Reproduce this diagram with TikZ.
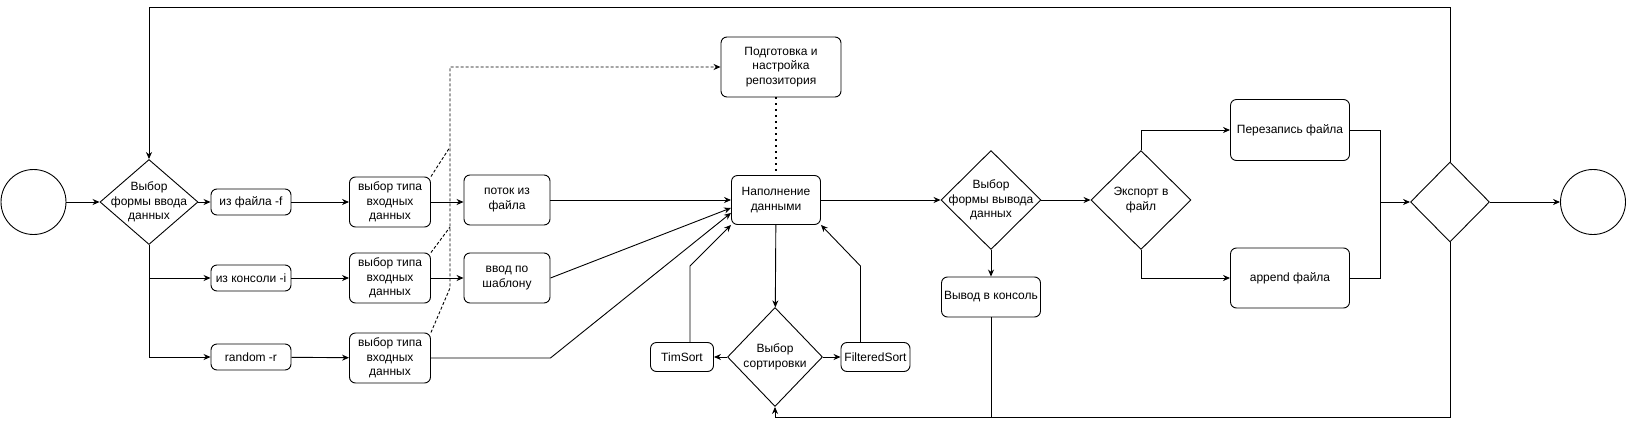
\documentclass[tikz,border=0pt]{standalone}
\usepackage{fontspec}
\setmainfont{Liberation Sans}
\usetikzlibrary{shapes.geometric,arrows.meta}
\begin{document}
\begin{tikzpicture}[x=1pt,y=-1pt,line width=.9pt,
  font=\fontsize{12}{14.4}\selectfont,
  >={Stealth[length=7pt,width=6pt]},
  blok/.style={draw,rounded corners=6pt,align=center,inner sep=0pt},
  malyj/.style={blok,minimum width=80pt,minimum height=26pt},
  tipblok/.style={blok,minimum width=81pt,minimum height=50pt},
  vybor/.style={draw,diamond,inner sep=0pt},
  krug/.style={draw,circle,minimum size=65pt,inner sep=0pt},
  punktir/.style={dash pattern=on 3pt off 2pt},
  tochki/.style={line width=1.6pt,dash pattern=on 1.6pt off 4.4pt}]
\useasboundingbox (0,0) rectangle (1626,426);
\node[krug] (start) at (33.5,202) {};
\node[vybor,minimum width=98pt,minimum height=85pt,label={[align=center]center:Выбор\\формы ввода\\данных}] (vvod) at (149,202) {};
\node[malyj] (fajl) at (251,202) {из файла -f};
\node[malyj] (konsol) at (251,278) {из консоли -i};
\node[malyj] (rnd) at (251,357) {random -r};
\node[tipblok] (tip1) at (390,202) {выбор типа\\входных\\данных};
\node[tipblok] (tip2) at (390,278) {выбор типа\\входных\\данных};
\node[tipblok] (tip3) at (390,358) {выбор типа\\входных\\данных};
\node[blok,minimum width=86pt,minimum height=50pt] (potok) at (507,200) {поток из\\файла};
\node[blok,minimum width=86pt,minimum height=50pt] (shablon) at (507,278) {ввод по\\шаблону};
\node[blok,minimum width=120pt,minimum height=60pt] (repo) at (781,67) {Подготовка и\\настройка\\репозитория};
\node[blok,minimum width=89pt,minimum height=49pt] (fill) at (776,200) {Наполнение\\данными};
\node[vybor,minimum width=95pt,minimum height=99pt,label={[align=center]center:Выбор\\сортировки}] (sort) at (775,357) {};
\node[blok,minimum width=63pt,minimum height=29pt] (tim) at (682,357) {TimSort};
\node[blok,minimum width=69pt,minimum height=29pt] (filt) at (875.5,357) {FilteredSort};
\node[vybor,minimum width=100pt,minimum height=99pt,label={[align=center]center:Выбор\\формы вывода\\данных}] (vyvod) at (991,200) {};
\node[blok,minimum width=99pt,minimum height=40pt] (konsvyv) at (991,297) {Вывод в консоль};
\node[vybor,minimum width=100pt,minimum height=99pt,label={[align=center]center:Экспорт в\\файл}] (eksport) at (1141,200) {};
\node[blok,minimum width=119pt,minimum height=61pt] (perez) at (1290,130) {Перезапись файла};
\node[blok,minimum width=119pt,minimum height=60pt] (append) at (1290,278) {append файла};
\node[vybor,minimum width=79pt,minimum height=80pt] (sliyanie) at (1450,202) {};
\node[krug] (konec) at (1593,202) {};
\coordinate (d1) at (450,147);
\coordinate (d2) at (450,227);
\coordinate (d3) at (450,288);
\coordinate (sb) at (1380,202);
\coordinate (verh) at (0,7);
\coordinate (niz) at (0,417);
\draw[->] (start) -- (vvod);
\draw[->] (vvod) -- (fajl);
\draw[->] (vvod.south |- konsol.west) -- (konsol.west);
\draw[->] (vvod.south) |- (rnd.west);
\draw[->] (fajl) -- (tip1);
\draw[->] (konsol) -- (tip2);
\draw[->] (rnd) -- (tip3);
\draw[->] (tip1.east) -- (tip1.east -| potok.west);
\draw[->] (tip2) -- (shablon);
\draw[->] (potok) -- (fill);
\draw[->] (shablon.east) -- (fill.190);
\draw[->] (tip3.east) -- (tip3.east -| shablon.east) -- (fill.196);
\draw[punktir] (tip1.north east) -- (d1);
\draw[punktir] (tip2.north east) -- (d2);
\draw[punktir,->] (tip3.north east) -- (d3) -- (d3 |- repo.west) -- (repo.west);
\draw[tochki] (fill.north |- repo.south) -- (fill.north);
\draw[->] (fill) -- (sort);
\draw[->] (sort) -- (tim);
\draw[->] (sort) -- (filt);
\draw[->] ([xshift=8pt]tim.north) -- ++(0,-76) -- (fill.south west);
\draw[->] ([xshift=-15pt]filt.north) -- ++(0,-76) -- (fill.south east);
\draw[->] (fill) -- (vyvod);
\draw[->] (vyvod) -- (eksport);
\draw[->] (vyvod) -- (konsvyv);
\draw[->] (eksport.north) |- (perez.west);
\draw[->] (eksport.south) |- (append.west);
\draw (perez.east) -| (sb);
\draw (append.east) -| (sb);
\draw[->] (sb) -- (sliyanie.west);
\draw[->] (sliyanie) -- (konec);
\draw[->] (sliyanie.north) -- (sliyanie.north |- verh) -| (vvod.north);
\draw[->] (sliyanie.south) -- (sliyanie.south |- niz) -| (sort.south);
\draw (konsvyv.south) -- (konsvyv.south |- niz);
\end{tikzpicture}
\end{document}
